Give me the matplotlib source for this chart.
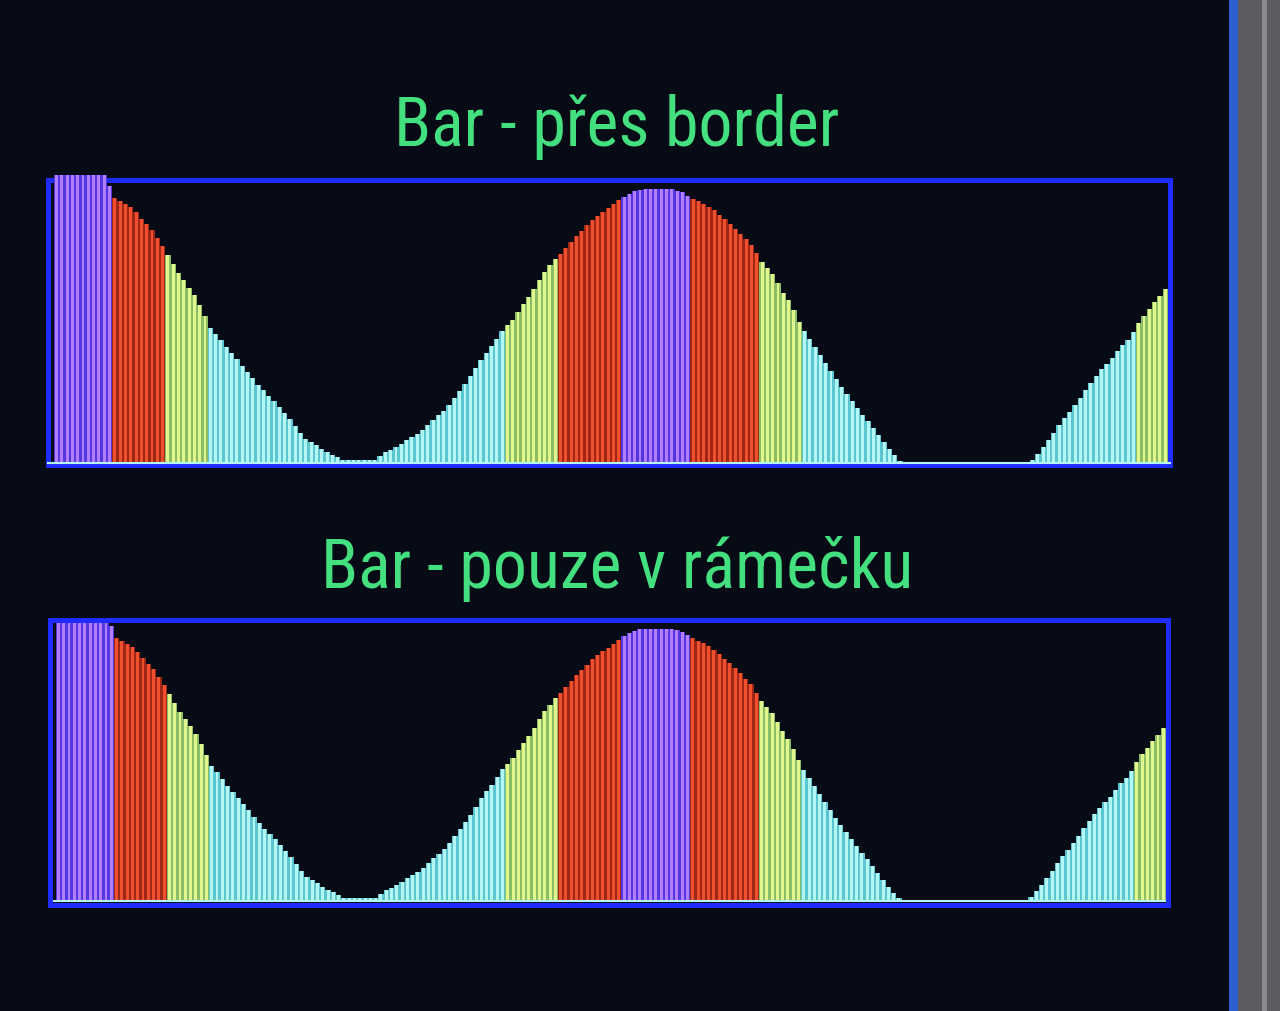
import matplotlib
matplotlib.use("Agg")
import matplotlib.pyplot as plt
import numpy as np
from matplotlib.patches import Rectangle
from matplotlib import font_manager

# bar heights (percent of frame height)
values = [
    103, 103, 103, 103, 103, 103, 103, 103, 103, 103,
    99, 94.5, 93.5, 92.5, 91.4, 89.5, 87.2, 85.3, 83.2, 80.5,
    77.6, 74.3, 71.0, 67.9, 65.3, 62.7, 60.0, 56.3, 52.5, 48.4,
    46.2, 43.8, 41.4, 39.2, 37.0, 34.8, 32.5, 30.3, 28.0, 26.0,
    24.1, 22.2, 20.1, 17.9, 15.6, 13.3, 10.6, 8.7, 7.5, 6.3,
    4.9, 3.9, 3.0, 2.0, 1.1, 1.1, 1.1, 1.1, 1.1, 1.1,
    1.1, 2.5, 3.8, 4.7, 5.7, 6.8, 8.1, 9.4, 10.5, 11.7,
    13.6, 15.5, 17.0, 18.7, 20.9, 23.3, 25.7, 28.3, 31.0, 33.8,
    36.9, 39.4, 41.7, 44.4, 47.3, 49.3, 51.2, 54.1, 56.8, 59.4,
    62.3, 65.3, 68.1, 70.6, 72.8, 74.7, 76.9, 79.1, 81.1, 83.0,
    84.9, 86.8, 88.3, 89.8, 91.1, 92.4, 93.8, 95.2, 96.2, 97.1,
    97.6, 97.9, 97.9, 97.9, 97.9, 97.9, 97.9, 97.3, 96.7, 95.5,
    94.4, 93.5, 92.6, 91.6, 90.3, 88.6, 87.0, 85.5, 83.7, 81.8,
    79.9, 78.0, 74.9, 71.7, 69.7, 67.6, 64.2, 60.9, 58.1, 54.6,
    50.5, 47.0, 44.2, 41.3, 38.5, 35.6, 32.8, 29.9, 27.1, 24.6,
    22.1, 19.7, 17.3, 15.0, 12.6, 10.1, 7.5, 4.9, 2.7, 0.9,
    0, 0, 0, 0, 0, 0, 0, 0, 0, 0,
    0, 0, 0, 0, 0, 0, 0, 0, 0, 0,
    0, 0, 0, 0, 1.2, 3.4, 5.7, 8.2, 10.8, 13.5,
    16.0, 18.4, 20.9, 23.4, 26.1, 28.7, 31.2, 33.5, 35.4, 37.5,
    39.9, 42.2, 44.1, 46.7, 49.9, 52.7, 55.1, 57.5, 59.7, 62.0,
]
titles = ["Bar - přes border", "Bar - pouze v rámečku"]

# colour bands by height: purple / red / yellow / cyan
levels = [95, 74.5, 48.5]
bright = ["#b47cff", "#f0502e", "#e0f78e", "#b4f6f4"]
dark = ["#5038e4", "#a02616", "#8cbc66", "#5cc6d0"]

bg = "#060b16"
frame_col = "#1f2cff"
title_col = "#44e080"

# pick a narrow face for the tall LCD-style titles if one is installed
have = {(f.name, f.stretch) for f in font_manager.fontManager.ttflist}
names = {f.name for f in font_manager.fontManager.ttflist}
narrow = None
for cand in ["DejaVu Sans Condensed", "Liberation Sans Narrow", "Roboto Condensed",
             "Open Sans Condensed"]:
    if cand in names:
        narrow = (cand, "normal")
        break
if narrow is None:
    for fam in ["DejaVu Sans", "Roboto", "Open Sans", "Noto Sans"]:
        if (fam, "condensed") in have or (fam, "semi-condensed") in have:
            st = "condensed" if (fam, "condensed") in have else "semi-condensed"
            narrow = (fam, st)
            break
if narrow is None:
    narrow = ("DejaVu Sans", "normal")

vals = np.array(values, dtype=float)
x = np.arange(len(vals))


def band(v):
    for k, lv in enumerate(levels):
        if v >= lv:
            return k
    return 3


idx = [band(v) for v in vals]
c_bright = [bright[k] for k in idx]
c_dark = [dark[k] for k in idx]

fig = plt.figure(figsize=(12.8, 10.11), dpi=100, facecolor=bg)

# photo bezel on the right
fig.patches.append(Rectangle((1236 / 1280, 0), 44 / 1280, 1, transform=fig.transFigure,
                             facecolor="#5c5d63", edgecolor="none", zorder=0))
fig.patches.append(Rectangle((1229 / 1280, 0), 9 / 1280, 1, transform=fig.transFigure,
                             facecolor="#2b5fd0", edgecolor="none", zorder=0))
fig.patches.append(Rectangle((1262 / 1280, 0), 5 / 1280, 1, transform=fig.transFigure,
                             facecolor="#8a8b90", edgecolor="none", zorder=0))

# (left, bottom, width, height) in px, ylim, bars drawn over the border?
boxes = [(48, 465, 1122, 285), (50, 905, 1118, 285)]
ylims = [(-0.7, 101.1), (-1.5, 101.0)]
over_border = [True, False]
title_y = [127, 569]

for (l, b, w, h), ylim, over, t, ty in zip(boxes, ylims, over_border, titles, title_y):
    ax = fig.add_axes([l / 1280, 1 - b / 1011, w / 1280, h / 1011])
    ax.set_facecolor(bg)
    z = 3 if over else 1
    ax.bar(x, vals, width=1.0, color=c_dark, linewidth=0, zorder=z, clip_on=not over)
    ax.bar(x, vals, width=0.55, color=c_bright, linewidth=0, zorder=z + 0.1, clip_on=not over)
    ax.axhline(0, color="#b4f6f4", lw=1.5, zorder=z + 0.2, clip_on=not over)
    ax.set_xlim(-1.6, len(vals) - 0.1)
    ax.set_ylim(*ylim)
    ax.set_xticks([])
    ax.set_yticks([])
    for s in ax.spines.values():
        s.set_color(frame_col)
        s.set_linewidth(3.6)
        s.set_zorder(2)
    fig.text(617 / 1280, 1 - ty / 1011, t, ha="center", va="center",
             color=title_col, fontsize=49, family=narrow[0], fontstretch=narrow[1])

plt.savefig("out.png", dpi=100, facecolor=bg)
